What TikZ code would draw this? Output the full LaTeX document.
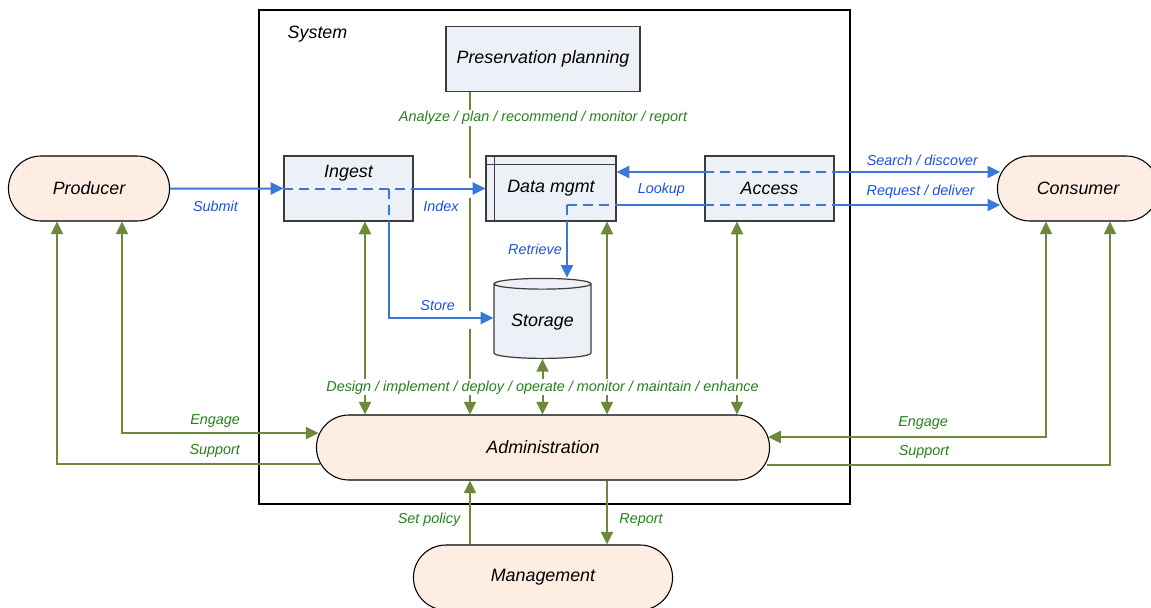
\documentclass[tikz,border=0pt]{standalone}
\usepackage{fontspec}
\setmainfont{Liberation Sans}
\usetikzlibrary{arrows.meta,shapes.misc,shapes.geometric}
\definecolor{boxfill}{RGB}{237,240,246}
\definecolor{boxline}{RGB}{60,60,60}
\definecolor{pillfill}{RGB}{253,237,226}
\definecolor{blueline}{RGB}{58,120,216}
\definecolor{bluetext}{RGB}{30,80,228}
\definecolor{greenline}{RGB}{108,138,58}
\definecolor{greentext}{RGB}{38,128,28}
\tikzset{
    TX/.style ={font=\fontsize{13.4}{16}\selectfont\itshape},
    FR/.style ={rectangle, draw=black, line width=1pt, minimum width=443.25pt, minimum height=370.5pt},
    BX/.style ={rectangle, draw=boxline, fill=boxfill, line width=0.9pt, minimum height=48.75pt, TX},
    PL/.style ={rounded rectangle, draw=black, fill=pillfill, line width=0.8pt, minimum height=48.75pt, TX},
    ST/.style ={cylinder, shape border rotate=90, aspect=0.15, draw=boxline, fill=boxfill, line width=0.9pt,
                minimum width=72.75pt, minimum height=60pt, TX},
    DM/.style ={path picture={\draw[boxline, line width=0.7pt]
                ([yshift=-6pt]path picture bounding box.north west) -- ([yshift=-6pt]path picture bounding box.north east)
                ([xshift=6pt]path picture bounding box.north west) -- ([xshift=6pt]path picture bounding box.south west);}},
    LB/.style ={font=\fontsize{10.8}{13}\selectfont\itshape, inner sep=1pt},
    LBB/.style ={LB, text=bluetext},
    LBG/.style ={LB, text=greentext},
    WB/.style ={fill=white},
    BL/.style ={draw=blueline, line width=1.5pt},
    BD/.style ={BL, dash pattern=on 7.5pt off 4.5pt},
    BA/.style ={BL, -{Triangle[length=9.5pt,width=9pt]}},
    GL/.style ={draw=greenline, line width=1.5pt},
    GA/.style ={GL, -{Triangle[length=9.5pt,width=9pt]}},
    GB/.style ={GL, {Triangle[length=9.5pt,width=9pt]}-{Triangle[length=9.5pt,width=9pt]}},
    % breaks in the planning line where the blue arrows cross it
    GAP/.style ={dash pattern=on 64.5pt off 15pt on 84.75pt off 13.5pt on 240pt}}

\begin{document}
\begin{tikzpicture}[x=0.75pt,y=-0.75pt]
    \useasboundingbox (0,0) rectangle (1151,607);
    \node[FR] (0) at (554.5,257) {};
    \node[TX, anchor=west] (0t) at (283,34) {System};
    \node[BX, minimum width=145.5pt] (3) at (543,59) {Preservation planning};
    \node[PL, minimum width=127.5pt] (1) at (89,188.5) {Producer};
    \node[BX, minimum width=96.75pt, label={[TX,yshift=11.5pt]center:Ingest}] (2) at (348.5,188.5) {};
    \node[BX, DM, minimum width=97.5pt] (4) at (551,188.5) {Data mgmt};
    \node[BX, minimum width=96.75pt] (5) at (769.5,188.5) {Access};
    \node[PL, minimum width=127.5pt] (6) at (1078,188.5) {Consumer};
    \node[ST] (7) at (542.5,322.5) {Storage};
    \node[PL, minimum width=346.5pt] (8) at (543,447.5) {Administration};
    \node[PL, minimum width=201pt] (9) at (543,577.5) {Management};

    \coordinate (2s) at ([xshift=30.375pt]2.center);
    \coordinate (2g) at ([xshift=12.375pt]2.south);
    \coordinate (3g) at ([xshift=-54.75pt]3.south);
    \coordinate (4r) at ([xshift=12pt,yshift=-12.375pt]4.center);
    \coordinate (4g) at ([xshift=42pt]4.south);
    \coordinate (5a) at ([yshift=12.375pt]5.west);
    \coordinate (5b) at ([yshift=12.375pt]5.east);
    \coordinate (5c) at ([yshift=-12.375pt]5.west);
    \coordinate (5d) at ([yshift=-12.375pt]5.east);
    \coordinate (5g) at ([xshift=-24.375pt]5.south);
    \coordinate (6a) at ([xshift=2.5pt,yshift=12.375pt]6.west);
    \coordinate (6b) at ([xshift=2.5pt,yshift=-12.375pt]6.west);
    \coordinate (7w) at ([yshift=3.375pt]7.west);
    \coordinate (9p) at ([xshift=-54.75pt]9.north);
    \coordinate (9r) at ([xshift=48pt]9.north);

    % planning line first, blue flows cross it
    \draw[GA, GAP] (3g) -- (3g |- 8.north) node[LBG, WB, pos=0.08, xshift=54.75pt]{Analyze / plan / recommend / monitor / report};

    \draw[BA] (1) -- (2) node[LBB, pos=0.4, yshift=-13.5pt]{Submit};
    \draw[BD] (2.west) -- (2.east);
    \draw[BA] (2) -- (4) node[LBB, pos=0.38, yshift=-13.5pt]{Index};
    \draw[BD] (2s) -- (2s |- 2.south);
    \draw[BA] (2s |- 2.south) |- (7w) node[LBB, pos=0.733, yshift=9pt]{Store};
    \draw[BD] (4r) -- (4r |- 4.south);
    \draw[BD] (4r) -- (4r -| 4.east);
    \draw[BA] (4r |- 4.south) -- (4r |- 7.north) node[LBB, pos=0.5, xshift=-24pt]{Retrieve};
    \draw[BA] (5a) -- (5a -| 4.east) node[LBB, pos=0.49, yshift=-13.5pt]{Lookup};
    \draw[BD] (5a) -- (5b);
    \draw[BA] (5b) -- (6a) node[LBB, pos=0.53, yshift=9pt]{Search / discover};
    \draw[BL] (4r -| 4.east) -- (5c);
    \draw[BD] (5c) -- (5d);
    \draw[BA] (5d) -- (6b) node[LBB, pos=0.52, yshift=9.75pt]{Request / deliver};

    \draw[GB] (2g) -- (2g |- 8.north);
    \draw[GB] (4g) -- (4g |- 8.north);
    \draw[GB] (5g) -- (5g |- 8.north);
    \draw[GB] (7) -- (7 |- 8.north) node[LBG, WB, pos=0.51]{Design / implement / deploy / operate / monitor / maintain / enhance};

    \draw[GB] ([xshift=24.75pt]1.south) |- ([xshift=2pt,yshift=10.875pt]8.west) node[LBG, pos=0.737, yshift=9pt]{Engage};
    \draw[GA] ([xshift=3pt,yshift=-12.375pt]8.west) -| ([xshift=-24pt]1.south) node[LBG, pos=0.2, yshift=9.75pt]{Support};
    \draw[GB] ([xshift=-24pt]6.south) |- ([xshift=-1.5pt,yshift=7.875pt]8.east) node[LBG, pos=0.721, yshift=10.5pt]{Engage};
    \draw[GA] ([xshift=-2.5pt,yshift=-13.125pt]8.east) -| ([xshift=24pt]6.south) node[LBG, pos=0.229, yshift=9.75pt]{Support};

    \draw[GA] (9p) -- (9p |- 8.south) node[LBG, pos=0.385, xshift=-30.75pt]{Set policy};
    \draw[GA] (9r |- 8.south) -- (9r) node[LBG, pos=0.615, xshift=25.5pt]{Report};
\end{tikzpicture}
\end{document}
